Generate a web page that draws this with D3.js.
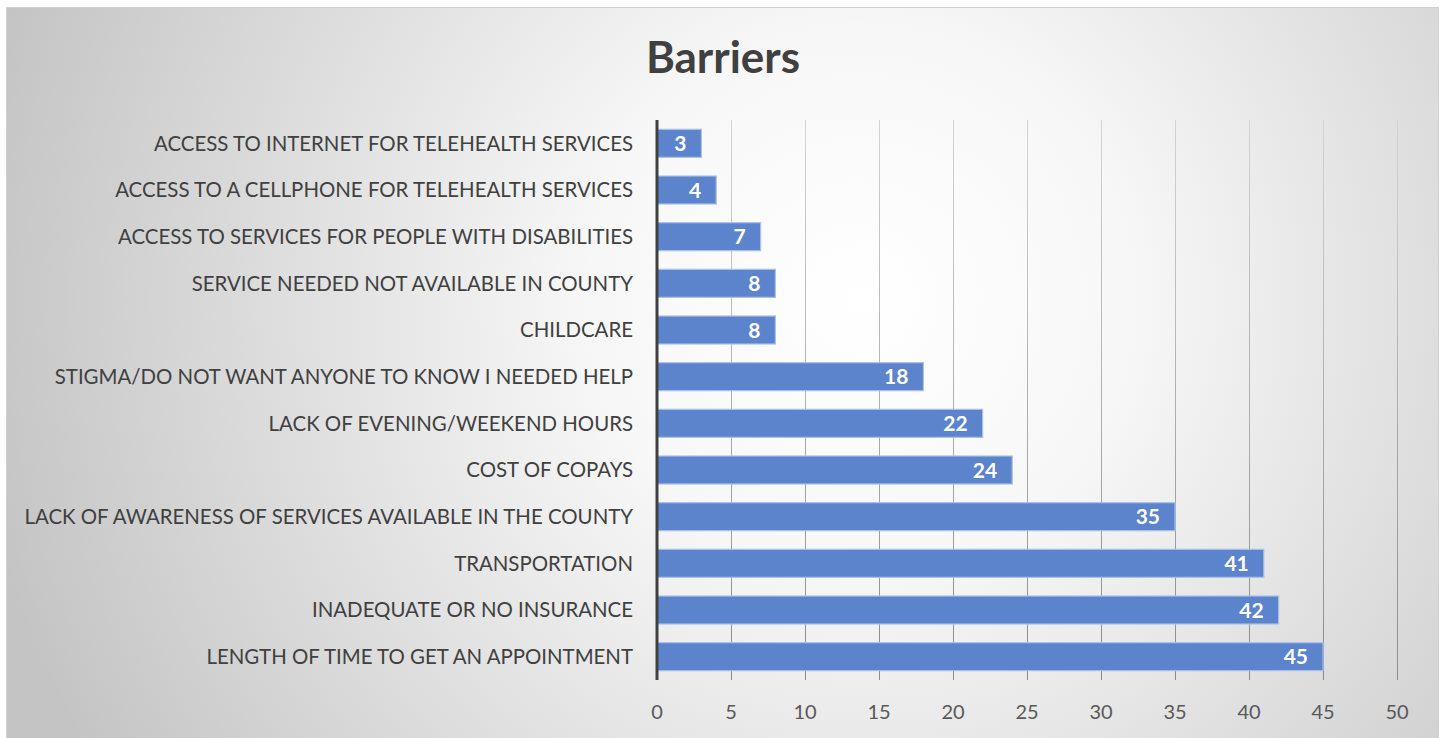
<!DOCTYPE html>
<html>
<head>
<meta charset="utf-8">
<script src="https://cdn.jsdelivr.net/npm/d3@7"></script>
<style>
  body { margin: 0; background: #fff; }
  svg { display: block; }
</style>
</head>
<body>
<svg width="1445" height="738"></svg>
<script>
var categories = [
  "ACCESS TO INTERNET FOR TELEHEALTH SERVICES",
  "ACCESS TO A CELLPHONE FOR TELEHEALTH SERVICES",
  "ACCESS TO SERVICES FOR PEOPLE WITH DISABILITIES",
  "SERVICE NEEDED NOT AVAILABLE IN COUNTY",
  "CHILDCARE",
  "STIGMA/DO NOT WANT ANYONE TO KNOW I NEEDED HELP",
  "LACK OF EVENING/WEEKEND HOURS",
  "COST OF COPAYS",
  "LACK OF AWARENESS OF SERVICES AVAILABLE IN THE COUNTY",
  "TRANSPORTATION",
  "INADEQUATE OR NO INSURANCE",
  "LENGTH OF TIME TO GET AN APPOINTMENT"
];
var values = [3, 4, 7, 8, 8, 18, 22, 24, 35, 41, 42, 45];
var xTicks = [0, 5, 10, 15, 20, 25, 30, 35, 40, 45, 50];

var svg = d3.select("svg"),
  width = +svg.attr("width"),
  height = +svg.attr("height");

var font = "Lato, 'Open Sans', sans-serif";

var defs = svg.append("defs");
var bg = defs.append("radialGradient")
  .attr("id", "bg")
  .attr("gradientUnits", "userSpaceOnUse")
  .attr("cx", 860).attr("cy", 300).attr("r", 900);
bg.append("stop").attr("offset", "0").attr("stop-color", "#ffffff");
bg.append("stop").attr("offset", "0.3").attr("stop-color", "#f7f7f7");
bg.append("stop").attr("offset", "1").attr("stop-color", "#c4c4c4");

var grid = defs.append("linearGradient")
  .attr("id", "grid")
  .attr("gradientUnits", "userSpaceOnUse")
  .attr("x1", 0).attr("y1", 120).attr("x2", 0).attr("y2", 680);
grid.append("stop").attr("offset", "0").attr("stop-color", "#d4d4d4");
grid.append("stop").attr("offset", "1").attr("stop-color", "#8a8a8a");

svg.append("rect")
  .attr("x", 6.5).attr("y", 7.5)
  .attr("width", 1432).attr("height", 740)
  .attr("fill", "url(#bg)")
  .attr("stroke", "#d0d0d0");

var x = d3.scaleLinear().domain([0, 50]).range([657, 1397]);
var y = d3.scaleBand().domain(categories).range([120, 680]).paddingInner(0.4).paddingOuter(0.2);

// title
svg.append("text")
  .attr("x", 723).attr("y", 73)
  .attr("text-anchor", "middle")
  .attr("font-family", font)
  .attr("font-weight", "bold")
  .attr("font-size", 44)
  .attr("fill", "#404040")
  .text("Barriers");

// gridlines
svg.append("g")
  .selectAll("line")
  .data(xTicks.slice(1))
  .enter().append("line")
  .attr("x1", function(d) { return x(d) + 0.5; })
  .attr("x2", function(d) { return x(d) + 0.5; })
  .attr("y1", 120).attr("y2", 680)
  .attr("stroke", "url(#grid)")
  .attr("stroke-width", 1);

// bars
svg.append("g")
  .selectAll("rect")
  .data(values)
  .enter().append("rect")
  .attr("x", x(0))
  .attr("y", function(d, i) { return y(categories[i]); })
  .attr("width", function(d) { return x(d) - x(0); })
  .attr("height", y.bandwidth())
  .attr("fill", "#5b84cd")
  .attr("stroke", "#a9c0e8")
  .attr("stroke-width", 1.2);

// value labels
svg.append("g")
  .selectAll("text")
  .data(values)
  .enter().append("text")
  .attr("x", function(d) { return x(d) - 15; })
  .attr("y", function(d, i) { return y(categories[i]) + y.bandwidth() / 2; })
  .attr("dy", "0.36em")
  .attr("text-anchor", "end")
  .attr("font-family", font)
  .attr("font-weight", "bold")
  .attr("font-size", 21)
  .attr("fill", "#ffffff")
  .text(function(d) { return d; });

// category labels
var yAxis = svg.append("g")
  .selectAll("text")
  .data(categories)
  .enter().append("text")
  .attr("x", 633)
  .attr("y", function(d) { return y(d) + y.bandwidth() / 2; })
  .attr("dy", "0.36em")
  .attr("text-anchor", "end")
  .attr("font-family", font)
  .attr("font-size", 20)
  .attr("fill", "#404040")
  .text(function(d) { return d; });

// fit widest label to reference width
var widest = d3.max(yAxis.nodes(), function(n) { return n.getComputedTextLength(); });
yAxis.attr("font-size", 20 * 609 / widest);

// x tick labels
svg.append("g")
  .selectAll("text")
  .data(xTicks)
  .enter().append("text")
  .attr("x", function(d) { return x(d); })
  .attr("y", 719)
  .attr("text-anchor", "middle")
  .attr("font-family", font)
  .attr("font-size", 20)
  .attr("fill", "#595959")
  .text(function(d) { return d; });

// axis line
svg.append("line")
  .attr("x1", x(0)).attr("x2", x(0))
  .attr("y1", 120).attr("y2", 680)
  .attr("stroke", "#404040")
  .attr("stroke-width", 3);
</script>
</body>
</html>
